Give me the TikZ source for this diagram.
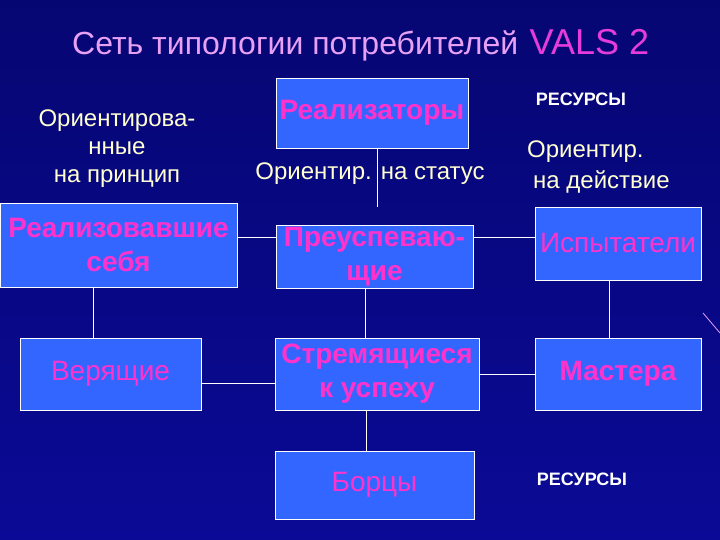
\documentclass[tikz,border=0pt]{standalone}
\usepackage{fontspec}
\setmainfont{Liberation Sans}
\usepackage{xcolor}
\usepackage{tikz}
\definecolor{fundo}{RGB}{10,10,150}
\definecolor{fundoesc}{RGB}{6,6,115}
\definecolor{caixaazul}{RGB}{51,102,255}
\definecolor{rosa}{RGB}{255,51,204}
\definecolor{lilas}{RGB}{232,160,245}
\definecolor{magenta2}{RGB}{230,60,220}
\definecolor{creme}{RGB}{255,255,210}
\tikzset{
  caixa/.style={draw=white, line width=0.8pt, fill=caixaazul, text=rosa, align=center, inner sep=0pt},
  liga/.style={draw=white, line width=0.8pt},
}

\begin{document}
\begin{tikzpicture}[x=1pt, y=-1pt,
  negrito/.style={font=\fontsize{28}{34}\selectfont\bfseries},
  normal/.style={font=\fontsize{28}{34}\selectfont},
  rotulo/.style={text=creme, align=center, inner sep=0pt, font=\fontsize{24}{28}\selectfont},
  recurso/.style={text=white, inner sep=0pt, font=\fontsize{18}{21}\selectfont\bfseries}]
  % fundo
  \shade[top color=fundoesc, bottom color=fundo] (0,0) rectangle (720,540);
  \useasboundingbox (0,0) rectangle (720,540);
  \draw[lilas, line width=0.8pt] (703,313) -- (720,333);
  % titulo
  \node[anchor=base west, inner sep=0pt, text=lilas, font=\fontsize{32}{38}\selectfont] (tit) at (72,55) {Сеть типологии потребителей};
  \node[anchor=base west, inner sep=0pt, text=magenta2, font=\fontsize{36}{42}\selectfont] (vals) at ([xshift=11pt]tit.base east) {VALS 2};
  % caixas
  \node[caixa, negrito, minimum width=192pt, minimum height=70pt] (rz) at (372,113) {Реализаторы};
  \node[caixa, negrito, minimum width=237pt, minimum height=84pt] (rs) at (118.5,245) {Реализовавшие\\себя};
  \node[caixa, negrito, minimum width=197pt, minimum height=63pt] (pu) at (374.5,256.5) {Преуспеваю-\\щие};
  \node[caixa, normal, minimum width=166pt, minimum height=73pt] (is) at (618,243.5) {Испытатели};
  \node[caixa, normal, minimum width=181pt, minimum height=72pt] (vr) at (110.5,374) {Верящие};
  \node[caixa, negrito, minimum width=204pt, minimum height=72pt] (sr) at (377,374) {Стремящиеся\\к успеху};
  \node[caixa, negrito, minimum width=166pt, minimum height=72pt] (ms) at (618,374) {Мастера};
  \node[caixa, normal, minimum width=199pt, minimum height=68pt] (bc) at (374.5,485) {Борцы};
  % ligacoes
  \coordinate (st) at (377,207);
  \draw[liga] (rz.south -| st) -- (st);
  \draw[liga] ([yshift=8pt]rs.east) -- ([yshift=8pt]rs.east -| pu.west);
  \draw[liga] ([yshift=19pt]pu.east) -- ([yshift=19pt]pu.east -| is.west);
  \draw[liga] ([xshift=-25pt]rs.south) -- ([xshift=-25pt]rs.south |- vr.north);
  \draw[liga] ([yshift=-9pt]vr.east) -- ([yshift=-9pt]vr.east -| sr.west);
  \draw[liga] ([xshift=-9pt]pu.south) -- ([xshift=-9pt]pu.south |- sr.north);
  \draw[liga] (sr.east) -- (sr.east -| ms.west);
  \draw[liga] ([xshift=-9pt]is.south) -- ([xshift=-9pt]is.south |- ms.north);
  \draw[liga] ([xshift=-11pt]sr.south) -- ([xshift=-11pt]sr.south |- bc.north);
  % rotulos
  \node[rotulo] (princ) at (117,149) {Ориентирова-\\нные\\на принцип};
  \node[rotulo, anchor=base] (status) at (370,180) {Ориентир. на статус};
  \node[rotulo, align=left, anchor=base west, font=\fontsize{24}{31}\selectfont] (acao) at (527,189) {Ориентир.\\\hspace{6pt}на действие};
  \node[recurso, anchor=base] (rec1) at (581,106) {РЕСУРСЫ};
  \node[recurso, anchor=base] (rec2) at (582,485) {РЕСУРСЫ};
\end{tikzpicture}
\end{document}
